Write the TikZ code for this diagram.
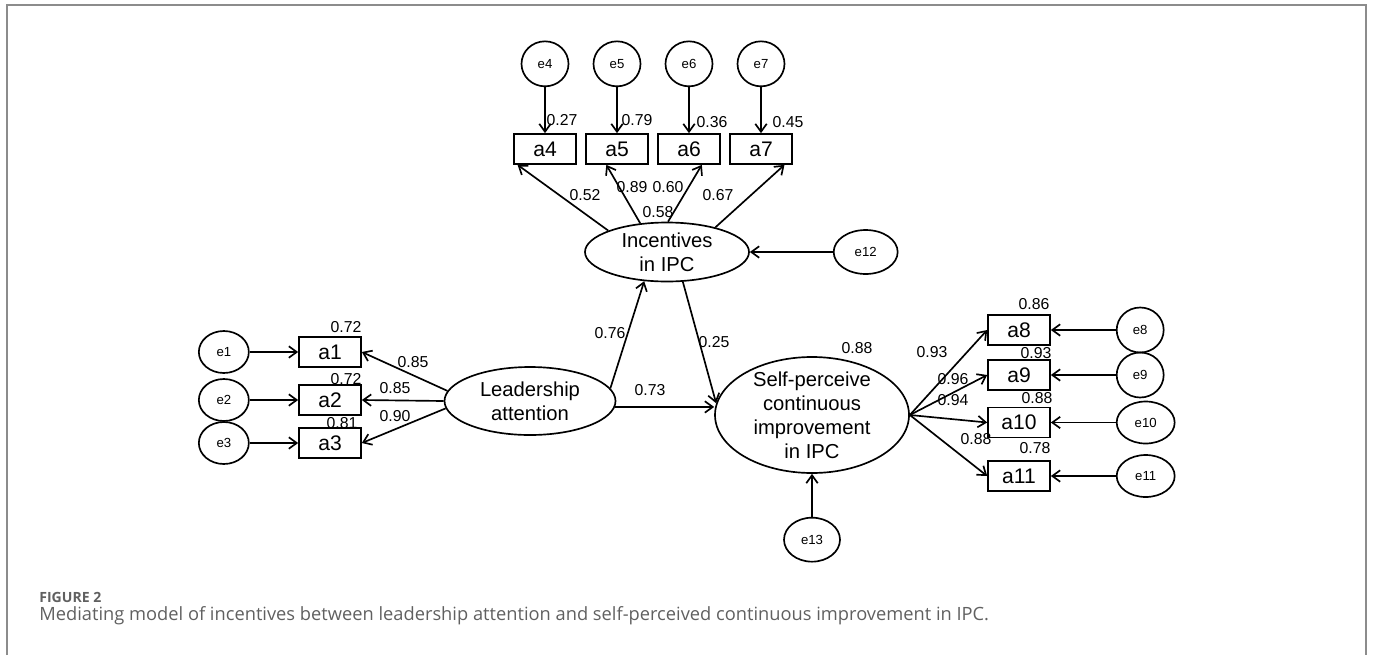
\documentclass[tikz,border=0pt]{standalone}
\usepackage{fontspec}
\setmainfont{Liberation Sans}
\newfontfamily\capfont{Open Sans}
\usetikzlibrary{positioning, arrows.meta, shapes.geometric}
\definecolor{frameGray}{HTML}{8C8C8C}
\definecolor{capGray}{HTML}{606060}

\begin{document}
\begin{tikzpicture}[
  node distance=1cm,
  ind/.style={rectangle, draw, line width=0.95pt, minimum width=1.24cm, minimum height=0.6cm,
              inner sep=0pt, font=\fontsize{12}{14}\selectfont},
  lat/.style={ellipse, draw, line width=0.95pt, inner sep=0pt},
  lattxt/.style={align=center, inner sep=0pt, font=\fontsize{11.5}{13.6}\selectfont},
  err/.style={ellipse, draw, line width=0.95pt, minimum width=0.94cm, minimum height=0.9cm,
              inner sep=0pt, font=\fontsize{7.5}{9}\selectfont},
  coef/.style={inner sep=0pt, font=\fontsize{9}{10}\selectfont},
  arrow/.style={-{Straight Barb[length=4.5pt,width=6.5pt]}, line width=0.95pt}
]
\useasboundingbox (0,0) rectangle (27.46,-13.1);
\draw[frameGray, line width=1.1pt] (0.14,-13.1) -- (0.14,-0.1) -- (27.32,-0.1) -- (27.32,-13.1);

% latent variables
\node[lat, minimum width=3.28cm, minimum height=1.18cm,
      label={[lattxt]center:Incentives\\in IPC}] (inc) at (13.34,-5.04) {};
\node[lat, minimum width=3.42cm, minimum height=1.36cm,
      label={[lattxt]center:Leadership\\attention}] (lead) at (10.6,-8.02) {};
\node[lat, minimum width=3.88cm, minimum height=2.32cm,
      label={[lattxt]center:Self-perceive\\continuous\\improvement\\in IPC}] (sp) at (16.24,-8.3) {};

% indicators of incentives
\node[ind] (a4) at (10.9,-2.98) {a4};
\node[ind] (a5) at (12.34,-2.98) {a5};
\node[ind] (a6) at (13.78,-2.98) {a6};
\node[ind] (a7) at (15.22,-2.98) {a7};
\node[err, above=0.92cm of a4] (e4) {e4};
\node[err, above=0.92cm of a5] (e5) {e5};
\node[err, above=0.92cm of a6] (e6) {e6};
\node[err, above=0.92cm of a7] (e7) {e7};

% indicators of leadership
\node[ind] (a1) at (6.6,-7.04) {a1};
\node[ind] (a2) at (6.6,-8.0) {a2};
\node[ind] (a3) at (6.6,-8.86) {a3};
\node[err, minimum width=1.0cm, minimum height=0.84cm, left=0.97cm of a1] (e1) {e1};
\node[err, minimum width=1.0cm, minimum height=0.84cm, left=0.97cm of a2] (e2) {e2};
\node[err, minimum width=1.0cm, minimum height=0.84cm, left=0.97cm of a3] (e3) {e3};

% indicators of self-perceived improvement
\node[ind] (a8) at (20.38,-6.6) {a8};
\node[ind] (a9) at (20.38,-7.5) {a9};
\node[ind] (a10) at (20.38,-8.45) {a10};
\node[ind] (a11) at (20.38,-9.52) {a11};
\node[err, right=1.3cm of a8] (e8) {e8};
\node[err, right=1.3cm of a9] (e9) {e9};
\node[err, minimum width=1.16cm, minimum height=0.84cm, right=1.3cm of a10] (e10) {e10};
\node[err, minimum width=1.16cm, minimum height=0.84cm, right=1.3cm of a11] (e11) {e11};

% disturbances
\node[err, minimum width=1.28cm, minimum height=0.88cm, right=1.66cm of inc] (e12) {e12};
\node[err, minimum width=1.12cm, minimum height=0.88cm, below=0.86cm of sp] (e13) {e13};

% paths
\draw[arrow] (e4) -- (a4);
\draw[arrow] (e5) -- (a5);
\draw[arrow] (e6) -- (a6);
\draw[arrow] (e7) -- (a7);
\draw[arrow] (inc.160) -- (a4.-150);
\draw[arrow] (inc.133) -- (a5.-124);
\draw[arrow] (inc.88) -- (a6.-51);
\draw[arrow] (inc.27.5) -- (a7.-34);
\draw[arrow] (e1) -- (a1);
\draw[arrow] (e2) -- (a2);
\draw[arrow] (e3) -- (a3);
\draw[arrow] (lead.173) -- (a1.east);
\draw[arrow] (lead.180) -- (a2.east);
\draw[arrow] (lead.185) -- (a3.east);
\draw[arrow] (lead.9) -- (inc.-128);
\draw[arrow] (inc.-62) -- (sp.173);
\draw[arrow] (lead.-4) -- (lead.-4 -| sp.west);
\draw[arrow] (e12) -- (inc);
\draw[arrow] (e13) -- (sp);
\draw[arrow] (sp.east) -- (a8.west);
\draw[arrow] (sp.east) -- (a9.west);
\draw[arrow] (sp.east) -- (a10.west);
\draw[arrow] (sp.east) -- (a11.west);
\draw[arrow] (e8) -- (a8);
\draw[arrow] (e9) -- (a9);
\draw[arrow] (e10) -- (a10);
\draw[arrow] (e11) -- (a11);

% estimates
\node[coef] (r27) at (11.24,-2.41) {0.27};
\node[coef] (r79) at (12.74,-2.41) {0.79};
\node[coef] (r36) at (14.24,-2.44) {0.36};
\node[coef] (r45) at (15.76,-2.44) {0.45};
\node[coef] (l52) at (11.7,-3.9) {0.52};
\node[coef] (l89) at (12.64,-3.74) {0.89};
\node[coef] (l60) at (13.36,-3.74) {0.60};
\node[coef] (r58) at (13.16,-4.24) {0.58};
\node[coef] (l67) at (14.36,-3.9) {0.67};
\node[coef] (r72a) at (6.92,-6.54) {0.72};
\node[coef] (r72b) at (6.92,-7.58) {0.72};
\node[coef] (r81) at (6.84,-8.46) {0.81};
\node[coef] (l85a) at (8.26,-7.24) {0.85};
\node[coef] (l85b) at (7.9,-7.76) {0.85};
\node[coef] (l90) at (7.9,-8.32) {0.90};
\node[coef] (l76) at (12.2,-6.66) {0.76};
\node[coef] (l73) at (13.0,-7.8) {0.73};
\node[coef] (l25) at (14.28,-6.84) {0.25};
\node[coef] (r88s) at (17.14,-6.96) {0.88};
\node[coef] (r86) at (20.68,-6.08) {0.86};
\node[coef] (r93) at (20.72,-7.06) {0.93};
\node[coef] (r88) at (20.74,-7.96) {0.88};
\node[coef] (r78) at (20.7,-8.96) {0.78};
\node[coef] (l93) at (18.64,-7.04) {0.93};
\node[coef] (l96) at (19.06,-7.58) {0.96};
\node[coef] (l94) at (19.06,-8.0) {0.94};
\node[coef] (l88) at (19.52,-8.78) {0.88};

% caption
\node[anchor=base west, inner sep=0pt, text=capGray, font=\capfont\bfseries\fontsize{8}{9}\selectfont]
  (fig) at (0.78,-12.04) {FIGURE 2};
\node[anchor=base west, inner sep=0pt, text=capGray, font=\capfont\fontsize{10.4}{12}\selectfont]
  (cap) at (0.78,-12.4) {Mediating model of incentives between leadership attention and self-perceived continuous improvement in IPC.};
\end{tikzpicture}
\end{document}
